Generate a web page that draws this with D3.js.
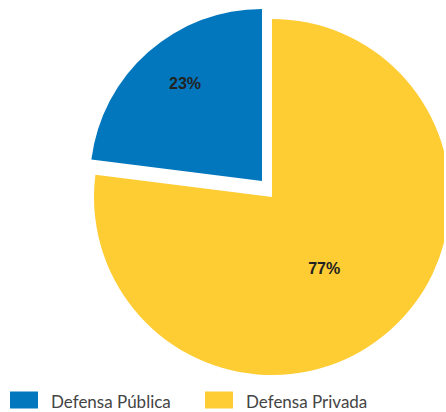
<!DOCTYPE html>
<html>
<head>
<meta charset="utf-8">
<script src="https://cdn.jsdelivr.net/npm/d3@7"></script>
<style>
html,body{margin:0;padding:0;background:#fff;}
svg{display:block;}
</style>
</head>
<body>
<svg id="chart" width="446" height="412"></svg>
<script>
const categories = ["Defensa Pública", "Defensa Privada"];
const values = [23, 77];
const labels = ["23%", "77%"];
const colors = ["#0277bd", "#fecc33"];

const svg = d3.select("#chart");
const cx = 272, cy = 197;
const rOuter = [172, 178];
const offsets = [[-10, -16], [0, 0]];
const labelR = [124, 88];
const labelNudge = [[5, -5], [-6, 5]];

const total = d3.sum(values);
const start = -2 * Math.PI * values[0] / total;
const pie = d3.pie().sort(null).value(d => d.value)
  .startAngle(start).endAngle(start + 2 * Math.PI);
const data = pie(categories.map((c, i) => ({ name: c, value: values[i], i })));

const defs = svg.append("defs");
defs.append("clipPath").attr("id", "clip")
  .append("rect").attr("x", 0).attr("y", 0).attr("width", 444).attr("height", 412);

const g = svg.append("g").attr("clip-path", "url(#clip)")
  .append("g").attr("transform", `translate(${cx},${cy})`);

data.forEach((d) => {
  const i = d.data.i;
  const arc = d3.arc().innerRadius(0).outerRadius(rOuter[i]);
  const gg = g.append("g").attr("transform", `translate(${offsets[i][0]},${offsets[i][1]})`);
  gg.append("path").attr("d", arc(d)).attr("fill", colors[i]);
  const la = d3.arc().innerRadius(labelR[i]).outerRadius(labelR[i]);
  const [lx, ly] = la.centroid(d);
  gg.append("text")
    .attr("x", lx + labelNudge[i][0]).attr("y", ly + labelNudge[i][1])
    .attr("text-anchor", "middle")
    .attr("dominant-baseline", "central")
    .attr("font-family", "Liberation Sans, Arial, sans-serif")
    .attr("font-weight", "bold")
    .attr("font-size", 16)
    .attr("fill", "#222")
    .text(labels[i]);
});

// legend
const legendX = [10, 205];
const leg = svg.append("g");
categories.forEach((c, i) => {
  leg.append("rect").attr("x", legendX[i]).attr("y", 391.5)
    .attr("width", 28).attr("height", 17).attr("fill", colors[i]);
  leg.append("text").attr("x", legendX[i] + 41).attr("y", 408)
    .attr("font-family", "Lato, 'Open Sans', sans-serif")
    .attr("font-size", 17)
    .attr("fill", "#444")
    .text(c);
});
</script>
</body>
</html>
